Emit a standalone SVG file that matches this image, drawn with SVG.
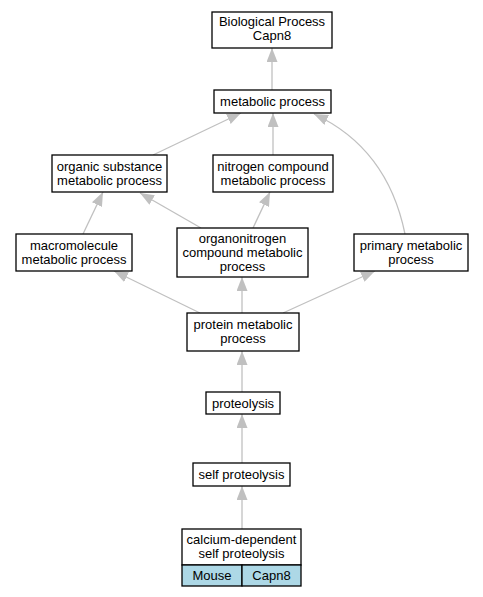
<svg xmlns="http://www.w3.org/2000/svg" width="483" height="597" viewBox="0 0 483 597">
<style>
.box{fill:#ffffff;stroke:#000000;stroke-width:1.3}
.cell{fill:#add8e6;stroke:#000000;stroke-width:1.3}
text{font-family:"Liberation Sans",Arial,sans-serif;font-size:13px;fill:#000000;text-anchor:middle}
.edge{fill:none;stroke:#c0c0c0;stroke-width:1.3;marker-end:url(#ah)}
</style>
<defs>
<marker id="ah" markerUnits="userSpaceOnUse" markerWidth="14" markerHeight="11" refX="14" refY="5.5" orient="auto">
<path d="M0,0 L14,5.5 L0,11 z" fill="#c0c0c0"/>
</marker>
</defs>
<rect width="483" height="597" fill="#ffffff"/>
<g id="edges">
<path class="edge" d="M272,90 L272,48"/>
<path class="edge" d="M153,155 L241,113"/>
<path class="edge" d="M273,155 L273,113"/>
<path class="edge" d="M405,234 C395,185 370,140 314,114"/>
<path class="edge" d="M83,234 L103,192"/>
<path class="edge" d="M201,228 L140,193"/>
<path class="edge" d="M253,228 L270,192"/>
<path class="edge" d="M200,313 L114,271"/>
<path class="edge" d="M242,313 L242,277"/>
<path class="edge" d="M283,313 L375,271"/>
<path class="edge" d="M242,392 L242,351"/>
<path class="edge" d="M242,463 L242,414"/>
<path class="edge" d="M242,529 L242,486"/>
</g>
<g id="n_bp">
<rect class="box" x="212" y="12" width="120" height="36"/>
<text x="272" y="26">Biological Process</text>
<text x="272" y="40">Capn8</text>
</g>
<g id="n_metabolic">
<rect class="box" x="214" y="90" width="117" height="23"/>
<text x="272.5" y="106">metabolic process</text>
</g>
<g id="n_organic">
<rect class="box" x="52" y="155" width="115" height="37"/>
<text x="109.5" y="171">organic substance</text>
<text x="109.5" y="185">metabolic process</text>
</g>
<g id="n_nitrogen">
<rect class="box" x="213" y="155" width="120" height="37"/>
<text x="273" y="171">nitrogen compound</text>
<text x="273" y="185">metabolic process</text>
</g>
<g id="n_macro">
<rect class="box" x="16" y="234" width="116" height="37"/>
<text x="74" y="250">macromolecule</text>
<text x="74" y="264">metabolic process</text>
</g>
<g id="n_organonitrogen">
<rect class="box" x="177" y="228" width="131" height="49"/>
<text x="242.5" y="243">organonitrogen</text>
<text x="242.5" y="257">compound metabolic</text>
<text x="242.5" y="271">process</text>
</g>
<g id="n_primary">
<rect class="box" x="354" y="234" width="114" height="37"/>
<text x="411" y="250">primary metabolic</text>
<text x="411" y="264">process</text>
</g>
<g id="n_protein">
<rect class="box" x="187" y="313" width="112" height="38"/>
<text x="243" y="329">protein metabolic</text>
<text x="243" y="343">process</text>
</g>
<g id="n_proteolysis">
<rect class="box" x="206" y="392" width="74" height="22"/>
<text x="243" y="407.5">proteolysis</text>
</g>
<g id="n_self">
<rect class="box" x="193" y="463" width="97" height="23"/>
<text x="241.5" y="479">self proteolysis</text>
</g>
<g id="n_calcium">
<rect class="box" x="182" y="529" width="119" height="36"/>
<text x="241.5" y="544">calcium-dependent</text>
<text x="241.5" y="558">self proteolysis</text>
<rect class="cell" x="182" y="565" width="60" height="21"/>
<rect class="cell" x="242" y="565" width="59" height="21"/>
<text x="212" y="580">Mouse</text>
<text x="271.5" y="580">Capn8</text>
</g>
</svg>
